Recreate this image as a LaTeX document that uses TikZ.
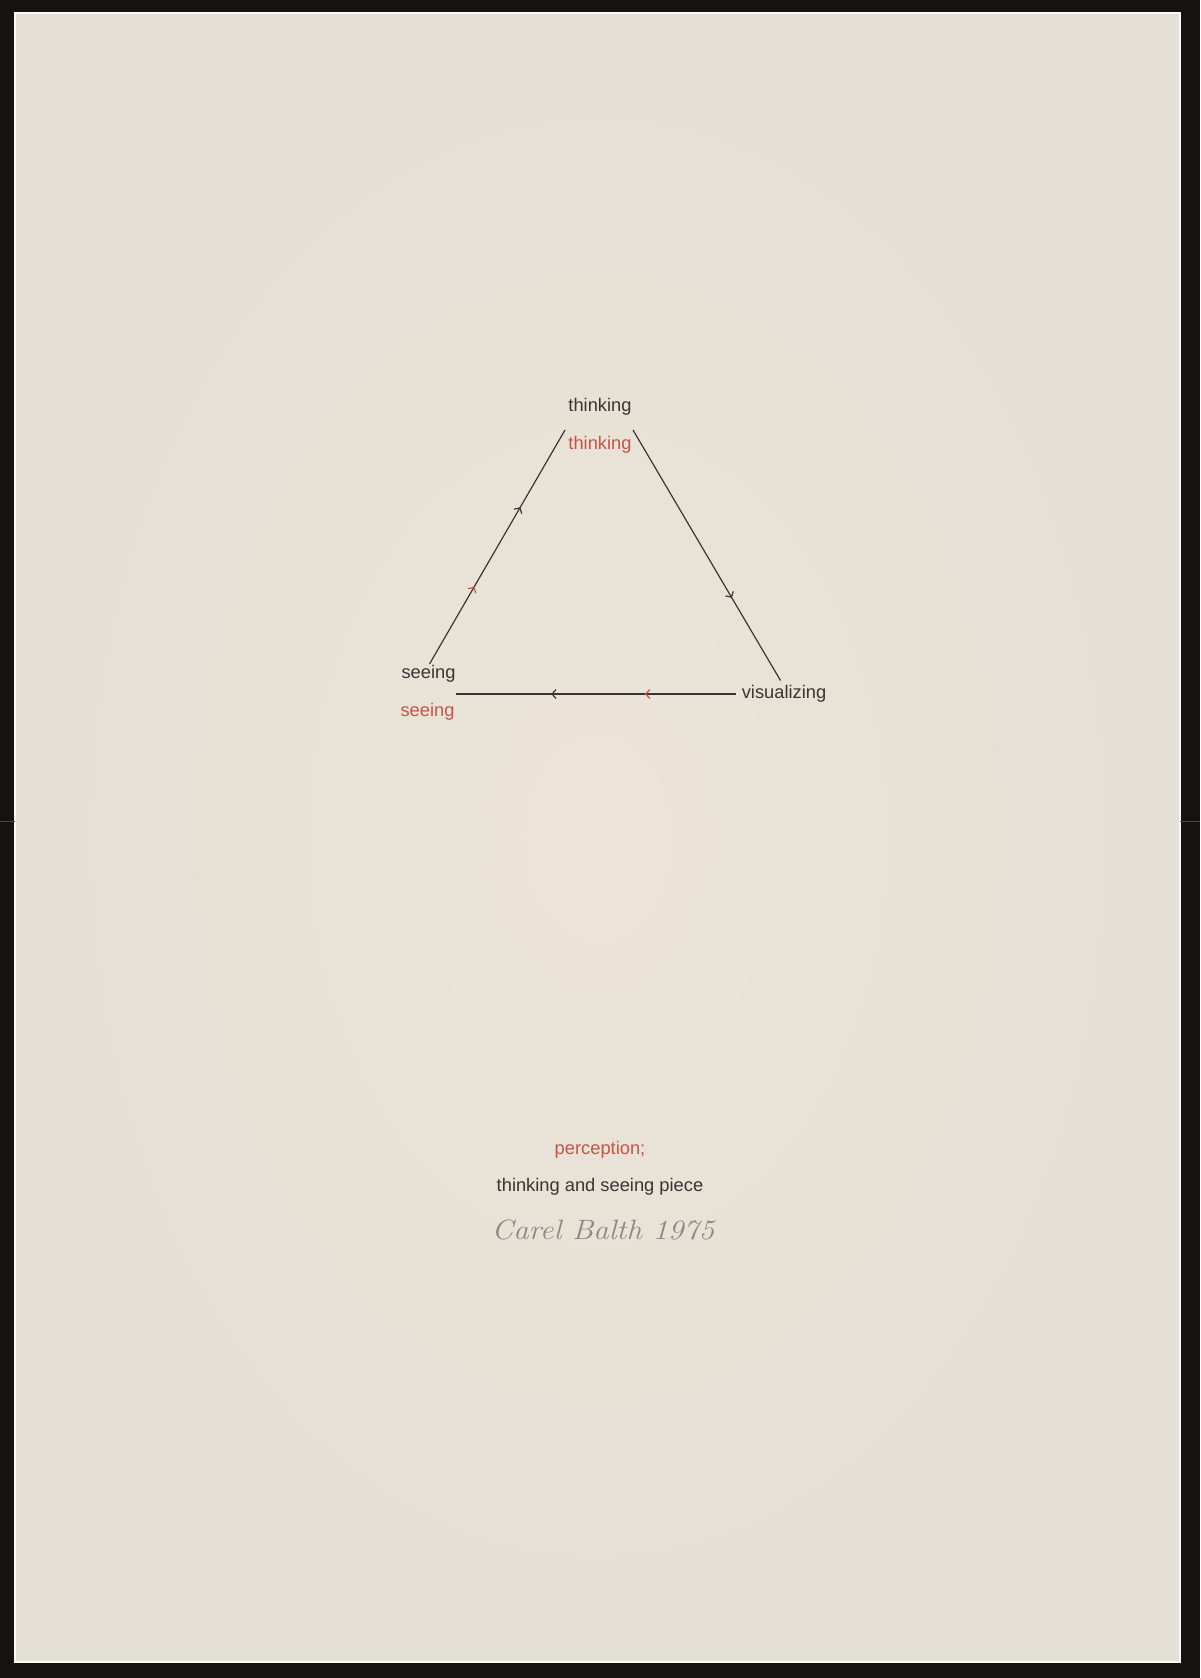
\documentclass[tikz,border=0pt]{standalone}
\usepackage{fontspec}
\newfontfamily\helv{Liberation Sans}
\usepackage{tikz}
\usetikzlibrary{positioning,decorations.markings,arrows.meta}

\definecolor{paper}{RGB}{236,228,215}
\definecolor{papergrey}{RGB}{228,224,214}
\definecolor{ink}{RGB}{58,53,50}
\definecolor{redink}{RGB}{198,84,72}
\definecolor{pencil}{RGB}{140,137,132}
\definecolor{frame}{RGB}{22,18,17}

\begin{document}
\begin{tikzpicture}[x=1pt,y=-1pt, every node/.style={inner sep=0pt, font=\helv\fontsize{18.3}{22}\selectfont}]

\tikzstyle{edge}=[draw=ink, line width=1.2pt, postaction={decorate}]
\tikzstyle{word}=[text=ink]
\tikzstyle{redword}=[text=redink]

\useasboundingbox (0,0) rectangle (1200,1678);
\fill [frame] (0,0) rectangle (1200,1678);
\shade [inner color=paper, outer color=papergrey] (15,13) rectangle (1180,1662);
\draw [white!80!paper, line width=1.5pt] (15,13) rectangle (1180,1662);
\draw [gray!50!frame, line width=1pt] (0,821) -- (15,821);
\draw [gray!50!frame, line width=1pt] (1180,821) -- (1200,821);

\node [word] (think) at (600,407) {thinking};
\node [redword] (think2) at (600,445) {thinking};
\node [word] (seeing) at (428.5,673.5) {seeing};
\node [redword] (seeing2) at (427.5,712) {seeing};
\node [word] (vis) at (784,693.5) {visualizing};

\coordinate (seeing-up) at (429.5,664);
\coordinate (think-left) at (565,430);
\coordinate (think-right) at (633,430);
\coordinate (vis-up) at (780.5,680.5);
\coordinate (vis-left) at (736,694);
\coordinate (seeing-right) at (456,694);

\draw [edge, decoration={markings,
    mark=at position 0.33 with {\arrow{Straight Barb[length=4pt,width=9pt,color=redink]}},
    mark=at position 0.67 with {\arrow{Straight Barb[length=4pt,width=9pt]}}}]
  (seeing-up) -- (think-left);
\draw [edge, decoration={markings,
    mark=at position 0.67 with {\arrow{Straight Barb[length=4pt,width=9pt]}}}]
  (think-right) -- (vis-up);
\draw [edge, decoration={markings,
    mark=at position 0.325 with {\arrow{Straight Barb[length=4pt,width=9pt,color=redink]}},
    mark=at position 0.66 with {\arrow{Straight Barb[length=4pt,width=9pt]}}}]
  (vis-left) -- (seeing-right);

\node [redword] (title) at (600,1150) {perception;};
\node [word] (subtitle) at (600,1187) {thinking and seeing piece};
\node [text=pencil, xscale=1.1, font=\fontsize{28}{32}\selectfont\itshape] (sign) at (603,1230) {Carel Balth 1975};
\end{tikzpicture}
\end{document}
